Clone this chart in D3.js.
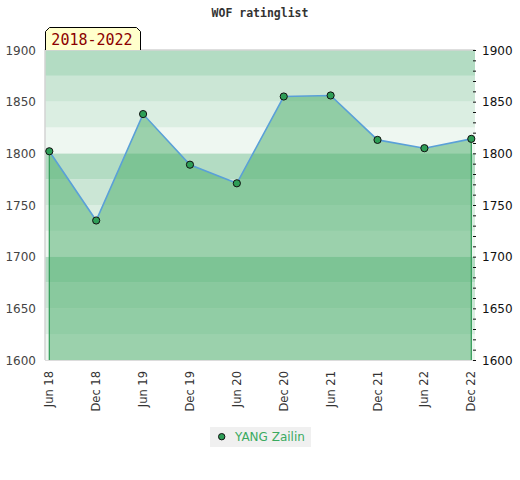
<!DOCTYPE html>
<html>
<head>
<meta charset="utf-8">
<script src="https://cdn.jsdelivr.net/npm/d3@7/dist/d3.min.js"></script>
<style>
  html, body { margin: 0; padding: 0; background: #fff; }
  svg { display: block; }
</style>
</head>
<body>
<div id="chart"></div>
<script>
// ──────────────  data
const periods = ['Jun 18', 'Dec 18', 'Jun 19', 'Dec 19', 'Jun 20', 'Dec 20', 'Jun 21', 'Dec 21', 'Jun 22', 'Dec 22'];
const ratings = [1802, 1735, 1838, 1789, 1771, 1855, 1856, 1813, 1805, 1814];
const yTicks  = [1600, 1650, 1700, 1750, 1800, 1850, 1900];
const playerName = 'YANG Zailin';
const rangeLabel = '2018-2022';
const chartTitle = 'WOF ratinglist';

// ──────────────  layout
const W = 520, H = 480;
const plot = { left: 45, right: 475, top: 50, bottom: 360 };
const bandColors = ['#b3dcc3', '#cbe6d5', '#dbeee2', '#eef7f1'];

const svg = d3.select('#chart').append('svg')
  .attr('width', W).attr('height', H);

const y = d3.scaleLinear().domain([1600, 1900]).range([plot.bottom, plot.top]);
const x = d3.scalePoint().domain(periods).range([49.3, 471.3]);

// background bands, every 25 points, pattern repeats each 100
const bands = d3.range(1600, 1900, 25);
svg.append('g').selectAll('rect')
  .data(bands)
  .join('rect')
  .attr('x', plot.left)
  .attr('width', plot.right - plot.left)
  .attr('y', d => y(d + 25))
  .attr('height', d => y(d) - y(d + 25))
  .attr('fill', d => bandColors[((1900 - (d + 25)) / 25) % 4]);

// plot frame (light gray)
svg.append('path')
  .attr('d', `M${plot.left},${plot.bottom} V${plot.top} H${plot.right}`)
  .attr('fill', 'none').attr('stroke', '#d4d4d4').attr('stroke-width', 1.5);
svg.append('line')
  .attr('x1', plot.left).attr('x2', plot.right)
  .attr('y1', plot.bottom + 0.5).attr('y2', plot.bottom + 0.5)
  .attr('stroke', '#dcdcdc');

// area under line
const pts = periods.map((p, i) => ({ p, v: ratings[i] }));
svg.append('path')
  .datum(pts)
  .attr('fill', '#48ab67').attr('fill-opacity', 0.5)
  .attr('d', d3.area().x(d => x(d.p)).y0(plot.bottom).y1(d => y(d.v)));

// area edges
[pts[0], pts[pts.length - 1]].forEach(d => {
  svg.append('line')
    .attr('x1', x(d.p)).attr('x2', x(d.p))
    .attr('y1', y(d.v)).attr('y2', plot.bottom)
    .attr('stroke', '#2e9a55').attr('stroke-width', 1.2);
});

// line
svg.append('path')
  .datum(pts)
  .attr('fill', 'none').attr('stroke', '#5aa0d8').attr('stroke-width', 1.6)
  .attr('d', d3.line().x(d => x(d.p)).y(d => y(d.v)));

// points
svg.append('g').selectAll('circle')
  .data(pts)
  .join('circle')
  .attr('cx', d => x(d.p)).attr('cy', d => y(d.v)).attr('r', 3.6)
  .attr('fill', '#2e9e57').attr('stroke', '#111').attr('stroke-width', 1);

// left axis labels
svg.append('g').selectAll('text')
  .data(yTicks)
  .join('text')
  .attr('x', 36).attr('y', d => y(d) + 4.5)
  .attr('text-anchor', 'end')
  .attr('font-family', 'DejaVu Sans').attr('font-size', 12)
  .attr('fill', '#444')
  .text(d => d);

// right axis with minor ticks
const rightAxis = d3.axisRight(y)
  .tickValues(d3.range(1600, 1901, 10))
  .tickSize(3)
  .tickFormat(d => (d % 50 === 0 ? d : ''));
const ra = svg.append('g')
  .attr('transform', `translate(473,0)`)
  .call(rightAxis);
ra.select('.domain').remove();
ra.selectAll('.tick line').attr('stroke', '#111').attr('x1', 0);
ra.selectAll('.tick text')
  .attr('x', 9).attr('dy', '0.35em')
  .attr('font-family', 'DejaVu Sans').attr('font-size', 12)
  .attr('fill', '#111');

// x labels, rotated
svg.append('g').selectAll('text')
  .data(periods)
  .join('text')
  .attr('transform', p => `translate(${x(p) + 4},371) rotate(-90)`)
  .attr('text-anchor', 'end')
  .attr('font-family', 'DejaVu Sans').attr('font-size', 11.5)
  .attr('fill', '#333')
  .text(p => p);

// title
svg.append('text')
  .attr('x', 260).attr('y', 17)
  .attr('text-anchor', 'middle')
  .attr('font-family', 'DejaVu Sans Mono').attr('font-weight', 'bold')
  .attr('font-size', 11.5).attr('fill', '#333')
  .text(chartTitle);

// range label box with chamfered top corners
const bx0 = 45.5, bx1 = 140.5, by0 = 27.5, by1 = 50, c = 4;
svg.append('path')
  .attr('d', `M${bx0},${by1} V${by0 + c} L${bx0 + c},${by0} H${bx1 - c} L${bx1},${by0 + c} V${by1}`)
  .attr('fill', '#ffffcc').attr('stroke', '#000').attr('stroke-width', 1);
svg.append('text')
  .attr('x', 92).attr('y', 45)
  .attr('text-anchor', 'middle')
  .attr('font-family', 'DejaVu Sans Mono').attr('font-size', 15)
  .attr('fill', '#8b0000')
  .text(rangeLabel);

// legend
const lg = svg.append('g');
lg.append('rect')
  .attr('x', 210).attr('y', 427).attr('width', 101).attr('height', 20)
  .attr('fill', '#f0f0f0');
lg.append('circle')
  .attr('cx', 221.7).attr('cy', 436.7).attr('r', 3.2)
  .attr('fill', '#2e9e57').attr('stroke', '#111');
lg.append('text')
  .attr('x', 235).attr('y', 441)
  .attr('font-family', 'DejaVu Sans').attr('font-size', 12)
  .attr('fill', '#3aaa60')
  .text(playerName);
</script>
</body>
</html>
